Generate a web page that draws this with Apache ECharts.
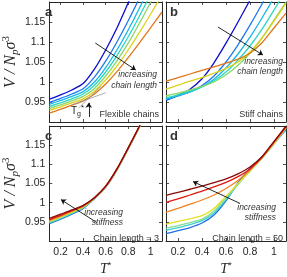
<!DOCTYPE html>
<html><head><meta charset="utf-8">
<script src="https://cdn.jsdelivr.net/npm/echarts@6/dist/echarts.min.js"></script>
<style>html,body{margin:0;padding:0;background:#fff}#c{width:287px;height:277px}</style>
</head><body><div id="c"></div>
<script>
// ---------------- data ----------------
const temperature = [0.1,0.2,0.3,0.4,0.5,0.6,0.7,0.8,0.9,1.0,1.1];
const xTicks = [0.2,0.4,0.6,0.8,1];
const yTicks = [0.95,1,1.05,1.1,1.15];
const lengthColors = ['#0c0ccc','#1f78f0','#12b8e8','#2ed6c2','#8cd66a','#dcd21c','#e0761c'];
const stiffColors  = ['#1f6fe0','#3fcfd6','#86e08a','#e4e022','#f08020','#e01a12','#8a0a0a'];

// (a) flexible chains, increasing chain length (dark blue -> orange)
const flexibleChains = [
  [0.957,0.968,0.980,0.996,1.032,1.080,1.135,1.198,1.265,1.330,1.400],
  [0.949,0.959,0.970,0.983,1.012,1.052,1.100,1.153,1.210,1.270,1.330],
  [0.944,0.954,0.964,0.976,1.000,1.036,1.080,1.130,1.185,1.245,1.310],
  [0.939,0.948,0.958,0.970,0.992,1.025,1.066,1.113,1.165,1.220,1.280],
  [0.934,0.943,0.953,0.964,0.984,1.015,1.053,1.097,1.147,1.200,1.255],
  [0.929,0.938,0.948,0.958,0.977,1.005,1.040,1.080,1.124,1.170,1.218],
  [0.922,0.932,0.942,0.953,0.970,0.995,1.026,1.061,1.098,1.136,1.175]
];
// (b) stiff chains, increasing chain length
const stiffChains = [
  [0.954,0.967,0.982,1.008,1.048,1.097,1.150,1.205,1.260,1.320,1.380],
  [0.955,0.965,0.975,0.991,1.015,1.050,1.093,1.142,1.195,1.250,1.310],
  [0.957,0.966,0.975,0.988,1.007,1.035,1.070,1.112,1.160,1.212,1.270],
  [0.960,0.968,0.977,0.988,1.003,1.025,1.055,1.090,1.132,1.180,1.230],
  [0.965,0.972,0.980,0.989,1.000,1.018,1.042,1.072,1.110,1.155,1.200],
  [0.982,0.992,1.002,1.011,1.022,1.034,1.050,1.075,1.110,1.152,1.198],
  [1.002,1.011,1.020,1.029,1.038,1.047,1.057,1.072,1.098,1.135,1.172]
];
// (c) chain length = 3, increasing stiffness (blue -> dark red)
const chainLength3 = [
  [0.945,0.957,0.970,0.985,1.010,1.040,1.085,1.140,1.197,1.258,1.320],
  [0.947,0.959,0.972,0.987,1.011,1.041,1.086,1.141,1.198,1.259,1.320],
  [0.949,0.961,0.974,0.988,1.011,1.041,1.086,1.141,1.198,1.259,1.320],
  [0.951,0.963,0.975,0.989,1.012,1.042,1.087,1.142,1.199,1.260,1.320],
  [0.953,0.965,0.977,0.990,1.012,1.042,1.087,1.142,1.199,1.260,1.320],
  [0.956,0.967,0.979,0.992,1.013,1.043,1.088,1.143,1.200,1.261,1.320],
  [0.959,0.970,0.981,0.993,1.013,1.043,1.088,1.143,1.200,1.261,1.320]
];
// (d) chain length = 50, increasing stiffness
const chainLength50 = [
  [0.919,0.927,0.935,0.947,0.968,1.005,1.052,1.090,1.120,1.155,1.190],
  [0.928,0.935,0.943,0.953,0.973,1.008,1.048,1.083,1.116,1.153,1.193],
  [0.933,0.940,0.948,0.957,0.978,1.012,1.048,1.082,1.116,1.154,1.195],
  [0.944,0.951,0.958,0.966,0.985,1.017,1.050,1.083,1.117,1.155,1.196],
  [0.975,0.985,0.996,1.007,1.020,1.037,1.058,1.085,1.118,1.157,1.198],
  [1.001,1.010,1.020,1.030,1.041,1.053,1.068,1.088,1.118,1.158,1.198],
  [1.019,1.027,1.035,1.043,1.052,1.062,1.075,1.093,1.120,1.160,1.200]
];
// annotation arrows (data coords) [T1,V1,T2,V2]
const arrowA = [0.508,1.0975,0.867,1.03];
const arrowB = [0.533,1.1375,0.908,1.0675];
const arrowC = [0.522,0.948,0.203,1.008];
const arrowD = [0.717,0.998,0.325,1.055];
const arrowTg = [0.45,0.9125,0.45,0.948];
const tangentLow = [0.30,0.943,0.60,0.973];
const tangentHigh = [0.36,0.935,0.56,0.990];

// ---------------- layout ----------------
const ink = '#262626';
const panels = [
  {left:41, top:2, width:121, data:flexibleChains, colors:lengthColors, yl:true, xl:false},
  {left:166, top:2, width:120, data:stiffChains, colors:lengthColors, yl:false, xl:false},
  {left:41, top:126, width:121, data:chainLength3, colors:stiffColors, yl:true, xl:true},
  {left:166, top:126, width:120, data:chainLength50, colors:stiffColors, yl:false, xl:true}
];
const grid = [], xAxis = [], yAxis = [], series = [];
const yName = '{v|V / N}{p|p}{v|σ}{e|3}';
const yRich = {
  v:{fontFamily:'Liberation Serif',fontStyle:'italic',fontSize:16,color:ink,lineHeight:20,verticalAlign:'middle'},
  p:{fontFamily:'Liberation Serif',fontStyle:'italic',fontSize:11,color:ink,verticalAlign:'bottom',lineHeight:20},
  e:{fontFamily:'Liberation Serif',fontSize:11,color:ink,verticalAlign:'top',lineHeight:20}
};
panels.forEach((p,i)=>{
  grid.push({left:p.left, top:p.top, width:p.width, height:120});
  const line = {show:true, onZero:false, lineStyle:{color:ink,width:1}};
  const tick = (vals)=>({show:true, inside:true, length:3, customValues:vals, lineStyle:{color:ink,width:0.8}});
  xAxis.push({gridIndex:i, type:'value', min:0.1, max:1.1, position:'bottom',
    axisLine:line, axisTick:tick(xTicks), splitLine:{show:false},
    axisLabel:{show:p.xl, customValues:xTicks, fontSize:10.5, color:ink, margin:6, fontFamily:'Liberation Sans'},
    name: p.xl ? '{t|T}{s|*}' : '', nameLocation:'middle', nameGap:20,
    nameTextStyle:{rich:{t:{fontFamily:'Liberation Serif',fontStyle:'italic',fontSize:14,color:ink,lineHeight:16},
                         s:{fontFamily:'Liberation Sans',fontSize:9,color:ink,verticalAlign:'top',lineHeight:16}}}});
  xAxis.push({gridIndex:i, type:'value', min:0.1, max:1.1, position:'top',
    axisLine:line, axisTick:tick(xTicks), axisLabel:{show:false}, splitLine:{show:false}});
  yAxis.push({gridIndex:i, type:'value', min:0.9, max:1.2, position:'left',
    axisLine:line, axisTick:tick(yTicks), splitLine:{show:false},
    axisLabel:{show:p.yl, customValues:yTicks, fontSize:10.5, color:ink, margin:4, fontFamily:'Liberation Sans'},
    name: p.yl ? yName : '', nameLocation:'middle', nameRotate:90, nameGap:27,
    nameTextStyle:{rich:yRich}});
  yAxis.push({gridIndex:i, type:'value', min:0.9, max:1.2, position:'right',
    axisLine:line, axisTick:tick(yTicks), axisLabel:{show:false}, splitLine:{show:false}});
  p.data.forEach((vals,k)=>{
    series.push({type:'line', xAxisIndex:2*i, yAxisIndex:2*i, symbol:'none', smooth:0.25,
      lineStyle:{color:p.colors[k], width:1.3}, itemStyle:{color:p.colors[k]},
      data: temperature.map((t,j)=>[t, vals[j]]), animation:false, silent:true, clip:true});
  });
});
function arrowSeries(idx, a, head){
  return {type:'lines', coordinateSystem:'cartesian2d', xAxisIndex:2*idx, yAxisIndex:2*idx,
    symbol: head ? ['none','arrow'] : ['none','none'], symbolSize:5, silent:true, animation:false, z:5,
    lineStyle:{color: head ? '#111' : '#999', width: head ? 0.9 : 0.8, opacity:1},
    data:[{coords:[[a[0],a[1]],[a[2],a[3]]]}]};
}
series.push(arrowSeries(0, tangentLow, false));
series.push(arrowSeries(0, tangentHigh, false));
series.push(arrowSeries(0, arrowA, true));
series.push(arrowSeries(0, arrowTg, true));
series.push(arrowSeries(1, arrowB, true));
series.push(arrowSeries(2, arrowC, true));
series.push(arrowSeries(3, arrowD, true));

const note = (x,y,text,opts={})=>({type:'text', x, y, z:10, silent:true,
  style:Object.assign({text, fill:'#333', font: opts.font || 'italic 8.5px "Liberation Sans"',
    textAlign: opts.align || 'right', textVerticalAlign:'middle'}, opts.extra||{})});
const graphic = [
  note(45,12,'a',{font:'bold 13px "Liberation Sans"',align:'left'}),
  note(170,12,'b',{font:'bold 13px "Liberation Sans"',align:'left'}),
  note(45,136,'c',{font:'bold 13px "Liberation Sans"',align:'left'}),
  note(170,136,'d',{font:'bold 13px "Liberation Sans"',align:'left'}),
  note(157,75,'increasing'), note(157,86,'chain length'),
  note(283,62,'increasing'), note(283,72,'chain length'),
  note(123,213,'increasing'), note(123,223,'stiffness'),
  note(276,208,'increasing'), note(276,218,'stiffness'),
  note(159,115,'Flexible chains',{font:'9px "Liberation Sans"'}),
  note(283,115,'Stiff chains',{font:'9px "Liberation Sans"'}),
  note(159,239,'Chain length = 3',{font:'9px "Liberation Sans"'}),
  note(283,239,'Chain length = 50',{font:'9px "Liberation Sans"'}),
  {type:'text', x:71, y:104, z:10, silent:true, style:{text:'{t|T}{g|g}{s|*}', rich:{
     t:{fontFamily:'Liberation Sans',fontSize:10,fill:ink,color:ink,lineHeight:14},
     g:{fontFamily:'Liberation Sans',fontSize:7,fill:ink,color:ink,verticalAlign:'bottom',lineHeight:14},
     s:{fontFamily:'Liberation Sans',fontSize:8,fill:ink,color:ink,verticalAlign:'top',lineHeight:14}}}}
];

const chart = echarts.init(document.getElementById('c'), null, {renderer:'canvas'});
chart.setOption({animation:false, backgroundColor:'#fff', grid, xAxis, yAxis, series, graphic});
</script></body></html>
